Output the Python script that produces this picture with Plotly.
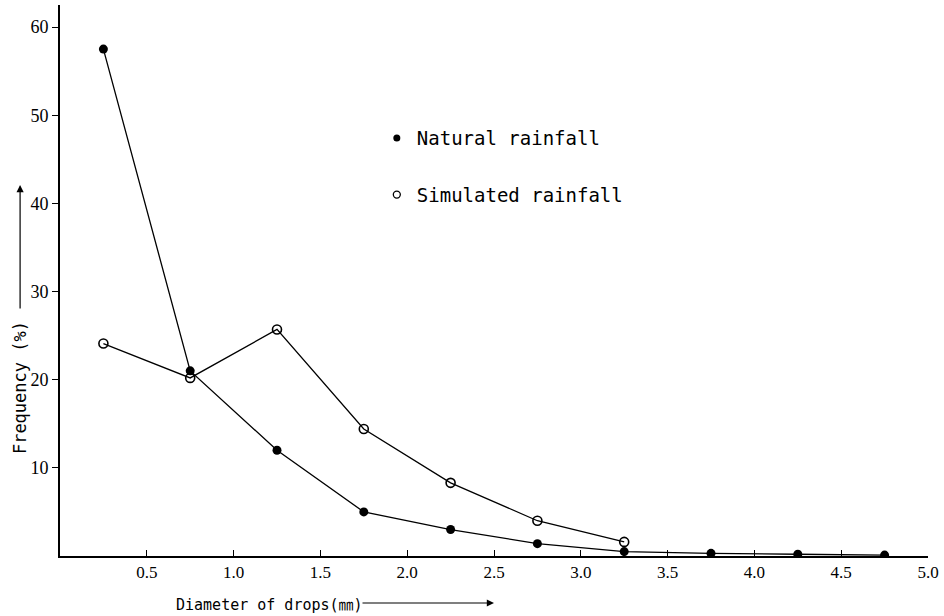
import plotly.graph_objects as go

diameter = [0.25, 0.75, 1.25, 1.75, 2.25, 2.75, 3.25, 3.75, 4.25, 4.75]
natural = [57.5, 21.0, 12.0, 5.0, 3.0, 1.4, 0.5, 0.3, 0.2, 0.1]
sim_diameter = [0.25, 0.75, 1.25, 1.75, 2.25, 2.75, 3.25]
simulated = [24.1, 20.2, 25.7, 14.4, 8.3, 4.0, 1.6]
x_ticks = [0.5, 1.0, 1.5, 2.0, 2.5, 3.0, 3.5, 4.0, 4.5, 5.0]
x_tick_labels = ["0.5", "1.0", "1.5", "2.0", "2.5", "3.0", "3.5", "4.0", "4.5", "5.0"]
y_ticks = [10, 20, 30, 40, 50, 60]

fig = go.Figure()
fig.add_trace(go.Scatter(
    x=sim_diameter, y=simulated, mode="lines+markers", showlegend=False,
    line=dict(color="black", width=1.3),
    marker=dict(symbol="circle-open", size=9, color="black", line=dict(width=1.6)),
))
fig.add_trace(go.Scatter(
    x=diameter, y=natural, mode="lines+markers", showlegend=False,
    line=dict(color="black", width=1.3),
    marker=dict(symbol="circle", size=9, color="black"),
))
# legend entries
fig.add_trace(go.Scatter(x=[None], y=[None], mode="markers", name="Natural rainfall",
                         legendgroup="a",
                         marker=dict(symbol="circle", size=7, color="black")))
fig.add_trace(go.Scatter(x=[None], y=[None], mode="markers", name="Simulated rainfall",
                         legendgroup="b",
                         marker=dict(symbol="circle-open", size=7, color="black", line=dict(width=1.3))))

font_mono = "DejaVu Sans Mono"
fig.update_layout(
    width=944, height=616,
    margin=dict(l=60, r=14, t=5, b=60),
    paper_bgcolor="white", plot_bgcolor="white",
    showlegend=True,
    legend=dict(x=0.365, y=0.793, xanchor="left", yanchor="top",
                font=dict(family=font_mono, size=19, color="black"),
                tracegroupgap=29, bgcolor="rgba(0,0,0,0)", itemwidth=30),
    xaxis=dict(range=[0, 5.0], tickvals=x_ticks, ticktext=x_tick_labels,
               showgrid=False, zeroline=False, showline=True, linecolor="black", linewidth=2,
               ticks="inside", ticklen=6, tickcolor="black", tickwidth=1.2,
               tickfont=dict(family="Liberation Serif", size=17, color="black")),
    yaxis=dict(range=[0, 62.5], tickvals=y_ticks,
               showgrid=False, zeroline=False, showline=True, linecolor="black", linewidth=2,
               ticks="outside", ticklen=6, tickcolor="black", tickwidth=1.2,
               tickfont=dict(family="Liberation Serif", size=18, color="black")),
    annotations=[
        dict(text="Frequency (%)", textangle=-90, xref="paper", yref="paper",
             xanchor="center", yanchor="middle",
             x=(20 - 60) / 870, y=(556 - 388) / 551, showarrow=False,
             font=dict(family=font_mono, size=17, color="black")),
        dict(text="", xref="paper", yref="paper", x=(20 - 60) / 870, y=(556 - 185) / 551,
             showarrow=True, ax=0, ay=125, arrowhead=2, arrowsize=1.2, arrowwidth=1.2,
             arrowcolor="black"),
        dict(text="Diameter of drops(<span style='font-family:\"Noto Sans CJK JP\";color:black'>㎜</span>)",
             xref="paper", yref="paper",
             xanchor="center", yanchor="middle",
             x=(270 - 60) / 870, y=-(603 - 556) / 551, showarrow=False,
             font=dict(family=font_mono, size=15, color="black")),
        dict(text="", xref="paper", yref="paper", x=(495 - 60) / 870, y=-(603 - 556) / 551,
             showarrow=True, ax=-133, ay=0, arrowhead=2, arrowsize=1.2, arrowwidth=1.2,
             arrowcolor="black"),
    ],
)

fig.write_html("out.html")
